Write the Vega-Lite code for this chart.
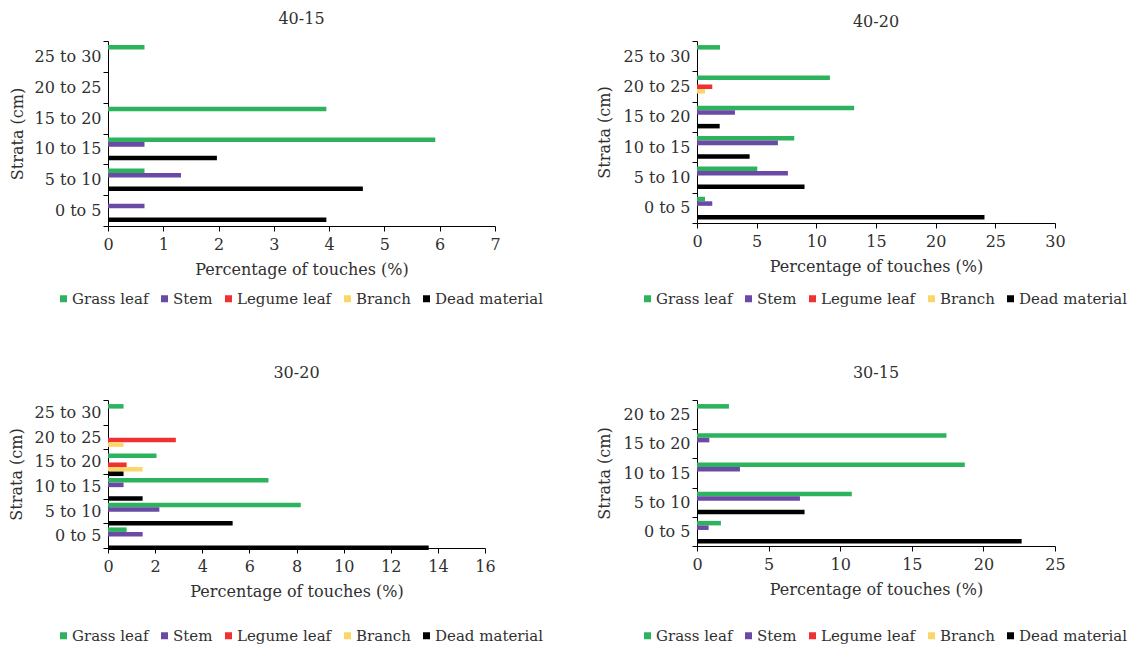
{
  "$schema": "https://vega.github.io/schema/vega-lite/v6.json",
  "padding": {"left": 8, "top": 11, "right": 5, "bottom": 5},
  "background": "white",
  "datasets": {
    "touches": [
      {"panel": "40-15", "stratum": "25 to 30", "part": "Grass leaf", "pct": 0.66},
      {"panel": "40-15", "stratum": "15 to 20", "part": "Grass leaf", "pct": 3.95},
      {"panel": "40-15", "stratum": "10 to 15", "part": "Grass leaf", "pct": 5.92},
      {"panel": "40-15", "stratum": "10 to 15", "part": "Stem", "pct": 0.66},
      {"panel": "40-15", "stratum": "10 to 15", "part": "Dead material", "pct": 1.97},
      {"panel": "40-15", "stratum": "5 to 10", "part": "Grass leaf", "pct": 0.66},
      {"panel": "40-15", "stratum": "5 to 10", "part": "Stem", "pct": 1.32},
      {"panel": "40-15", "stratum": "5 to 10", "part": "Dead material", "pct": 4.61},
      {"panel": "40-15", "stratum": "0 to 5", "part": "Stem", "pct": 0.66},
      {"panel": "40-15", "stratum": "0 to 5", "part": "Dead material", "pct": 3.95},

      {"panel": "40-20", "stratum": "25 to 30", "part": "Grass leaf", "pct": 1.93},
      {"panel": "40-20", "stratum": "20 to 25", "part": "Grass leaf", "pct": 11.14},
      {"panel": "40-20", "stratum": "20 to 25", "part": "Legume leaf", "pct": 1.28},
      {"panel": "40-20", "stratum": "20 to 25", "part": "Branch", "pct": 0.67},
      {"panel": "40-20", "stratum": "15 to 20", "part": "Grass leaf", "pct": 13.17},
      {"panel": "40-20", "stratum": "15 to 20", "part": "Stem", "pct": 3.18},
      {"panel": "40-20", "stratum": "15 to 20", "part": "Dead material", "pct": 1.9},
      {"panel": "40-20", "stratum": "10 to 15", "part": "Grass leaf", "pct": 8.15},
      {"panel": "40-20", "stratum": "10 to 15", "part": "Stem", "pct": 6.78},
      {"panel": "40-20", "stratum": "10 to 15", "part": "Dead material", "pct": 4.41},
      {"panel": "40-20", "stratum": "5 to 10", "part": "Grass leaf", "pct": 5.05},
      {"panel": "40-20", "stratum": "5 to 10", "part": "Stem", "pct": 7.62},
      {"panel": "40-20", "stratum": "5 to 10", "part": "Dead material", "pct": 9.01},
      {"panel": "40-20", "stratum": "0 to 5", "part": "Grass leaf", "pct": 0.67},
      {"panel": "40-20", "stratum": "0 to 5", "part": "Stem", "pct": 1.28},
      {"panel": "40-20", "stratum": "0 to 5", "part": "Dead material", "pct": 24.09},

      {"panel": "30-20", "stratum": "25 to 30", "part": "Grass leaf", "pct": 0.66},
      {"panel": "30-20", "stratum": "20 to 25", "part": "Legume leaf", "pct": 2.88},
      {"panel": "30-20", "stratum": "20 to 25", "part": "Branch", "pct": 0.66},
      {"panel": "30-20", "stratum": "15 to 20", "part": "Grass leaf", "pct": 2.06},
      {"panel": "30-20", "stratum": "15 to 20", "part": "Legume leaf", "pct": 0.79},
      {"panel": "30-20", "stratum": "15 to 20", "part": "Branch", "pct": 1.47},
      {"panel": "30-20", "stratum": "15 to 20", "part": "Dead material", "pct": 0.66},
      {"panel": "30-20", "stratum": "10 to 15", "part": "Grass leaf", "pct": 6.81},
      {"panel": "30-20", "stratum": "10 to 15", "part": "Stem", "pct": 0.66},
      {"panel": "30-20", "stratum": "10 to 15", "part": "Dead material", "pct": 1.47},
      {"panel": "30-20", "stratum": "5 to 10", "part": "Grass leaf", "pct": 8.18},
      {"panel": "30-20", "stratum": "5 to 10", "part": "Stem", "pct": 2.18},
      {"panel": "30-20", "stratum": "5 to 10", "part": "Dead material", "pct": 5.29},
      {"panel": "30-20", "stratum": "0 to 5", "part": "Grass leaf", "pct": 0.79},
      {"panel": "30-20", "stratum": "0 to 5", "part": "Stem", "pct": 1.47},
      {"panel": "30-20", "stratum": "0 to 5", "part": "Dead material", "pct": 13.61},

      {"panel": "30-15", "stratum": "20 to 25", "part": "Grass leaf", "pct": 2.23},
      {"panel": "30-15", "stratum": "15 to 20", "part": "Grass leaf", "pct": 17.42},
      {"panel": "30-15", "stratum": "15 to 20", "part": "Stem", "pct": 0.86},
      {"panel": "30-15", "stratum": "10 to 15", "part": "Grass leaf", "pct": 18.7},
      {"panel": "30-15", "stratum": "10 to 15", "part": "Stem", "pct": 3.0},
      {"panel": "30-15", "stratum": "5 to 10", "part": "Grass leaf", "pct": 10.81},
      {"panel": "30-15", "stratum": "5 to 10", "part": "Stem", "pct": 7.19},
      {"panel": "30-15", "stratum": "5 to 10", "part": "Dead material", "pct": 7.51},
      {"panel": "30-15", "stratum": "0 to 5", "part": "Grass leaf", "pct": 1.67},
      {"panel": "30-15", "stratum": "0 to 5", "part": "Stem", "pct": 0.81},
      {"panel": "30-15", "stratum": "0 to 5", "part": "Dead material", "pct": 22.67}
    ]
  },
  "spacing": 58,
  "resolve": {"scale": {"color": "independent", "x": "independent", "y": "independent"}, "legend": {"color": "independent"}},
  "vconcat": [
    {
      "spacing": 53,
      "resolve": {"scale": {"color": "independent", "x": "independent", "y": "independent"}, "legend": {"color": "independent"}},
      "hconcat": [
        {
          "title": {"text": "40-15", "offset": 6},
          "width": 387,
          "height": 185,
          "data": {"name": "touches"},
          "transform": [{"filter": "datum.panel === '40-15'"}],
          "mark": {"type": "bar"},
          "encoding": {
            "y": {"field": "stratum", "type": "nominal",
                  "scale": {"domain": ["25 to 30", "20 to 25", "15 to 20", "10 to 15", "5 to 10", "0 to 5"], "paddingInner": 0, "paddingOuter": 0},
                  "axis": {"title": "Strata (cm)", "tickBand": "extent", "titlePadding": 9}},
            "yOffset": {"field": "part", "type": "nominal",
                        "scale": {"domain": ["Grass leaf", "Stem", "Legume leaf", "Branch", "Dead material"], "paddingInner": 0, "paddingOuter": 0.9}},
            "x": {"field": "pct", "type": "quantitative", "scale": {"domain": [0, 7], "nice": false},
                  "axis": {"title": "Percentage of touches (%)", "values": [0, 1, 2, 3, 4, 5, 6, 7]}},
            "color": {"field": "part", "type": "nominal",
                      "scale": {"domain": ["Grass leaf", "Stem", "Legume leaf", "Branch", "Dead material"], "range": ["#2db35d", "#6a4aa5", "#ee3131", "#fdd66a", "#000000"]},
                      "legend": {"orient": "none", "legendX": -52, "legendY": 250}}
          }
        },
        {
          "title": {"text": "40-20", "offset": 3},
          "width": 358,
          "height": 182,
          "data": {"name": "touches"},
          "transform": [{"filter": "datum.panel === '40-20'"}],
          "mark": {"type": "bar"},
          "encoding": {
            "y": {"field": "stratum", "type": "nominal",
                  "scale": {"domain": ["25 to 30", "20 to 25", "15 to 20", "10 to 15", "5 to 10", "0 to 5"], "paddingInner": 0, "paddingOuter": 0},
                  "axis": {"title": "Strata (cm)", "tickBand": "extent", "titlePadding": 11}},
            "yOffset": {"field": "part", "type": "nominal",
                        "scale": {"domain": ["Grass leaf", "Stem", "Legume leaf", "Branch", "Dead material"], "paddingInner": 0, "paddingOuter": 0.9}},
            "x": {"field": "pct", "type": "quantitative", "scale": {"domain": [0, 30], "nice": false},
                  "axis": {"title": "Percentage of touches (%)", "values": [0, 5, 10, 15, 20, 25, 30]}},
            "color": {"field": "part", "type": "nominal",
                      "scale": {"domain": ["Grass leaf", "Stem", "Legume leaf", "Branch", "Dead material"], "range": ["#2db35d", "#6a4aa5", "#ee3131", "#fdd66a", "#000000"]},
                      "legend": {"orient": "none", "legendX": -57, "legendY": 250}}
          }
        }
      ]
    },
    {
      "spacing": 53,
      "resolve": {"scale": {"color": "independent", "x": "independent", "y": "independent"}, "legend": {"color": "independent"}},
      "hconcat": [
        {
          "title": {"text": "30-20", "offset": 11},
          "width": 377,
          "height": 148,
          "data": {"name": "touches"},
          "transform": [{"filter": "datum.panel === '30-20'"}],
          "mark": {"type": "bar"},
          "encoding": {
            "y": {"field": "stratum", "type": "nominal",
                  "scale": {"domain": ["25 to 30", "20 to 25", "15 to 20", "10 to 15", "5 to 10", "0 to 5"], "paddingInner": 0, "paddingOuter": 0},
                  "axis": {"title": "Strata (cm)", "tickBand": "extent", "titlePadding": 10}},
            "yOffset": {"field": "part", "type": "nominal",
                        "scale": {"domain": ["Grass leaf", "Stem", "Legume leaf", "Branch", "Dead material"], "paddingInner": 0, "paddingOuter": 0.9}},
            "x": {"field": "pct", "type": "quantitative", "scale": {"domain": [0, 16], "nice": false},
                  "axis": {"title": "Percentage of touches (%)", "values": [0, 2, 4, 6, 8, 10, 12, 14, 16]}},
            "color": {"field": "part", "type": "nominal",
                      "scale": {"domain": ["Grass leaf", "Stem", "Legume leaf", "Branch", "Dead material"], "range": ["#2db35d", "#6a4aa5", "#ee3131", "#fdd66a", "#000000"]},
                      "legend": {"orient": "none", "legendX": -52, "legendY": 228}}
          }
        },
        {
          "title": {"text": "30-15", "offset": 11},
          "width": 358,
          "height": 146,
          "data": {"name": "touches"},
          "transform": [{"filter": "datum.panel === '30-15'"}],
          "mark": {"type": "bar"},
          "encoding": {
            "y": {"field": "stratum", "type": "nominal",
                  "scale": {"domain": ["20 to 25", "15 to 20", "10 to 15", "5 to 10", "0 to 5"], "paddingInner": 0, "paddingOuter": 0},
                  "axis": {"title": "Strata (cm)", "tickBand": "extent", "titlePadding": 11}},
            "yOffset": {"field": "part", "type": "nominal",
                        "scale": {"domain": ["Grass leaf", "Stem", "Legume leaf", "Branch", "Dead material"], "paddingInner": 0, "paddingOuter": 0.9}},
            "x": {"field": "pct", "type": "quantitative", "scale": {"domain": [0, 25], "nice": false},
                  "axis": {"title": "Percentage of touches (%)", "values": [0, 5, 10, 15, 20, 25]}},
            "color": {"field": "part", "type": "nominal",
                      "scale": {"domain": ["Grass leaf", "Stem", "Legume leaf", "Branch", "Dead material"], "range": ["#2db35d", "#6a4aa5", "#ee3131", "#fdd66a", "#000000"]},
                      "legend": {"orient": "none", "legendX": -57, "legendY": 228}}
          }
        }
      ]
    }
  ],
  "config": {
    "font": "DejaVu Serif",
    "view": {"stroke": null},
    "title": {"font": "DejaVu Serif", "fontSize": 16, "fontWeight": "normal", "color": "#303030"},
    "axis": {
      "grid": false,
      "labelFont": "DejaVu Serif", "labelFontSize": 16, "labelColor": "#303030",
      "titleFont": "DejaVu Serif", "titleFontSize": 16, "titleFontWeight": "normal", "titleColor": "#303030",
      "domainColor": "#000000", "tickColor": "#000000", "tickSize": 5, "labelPadding": 2
    },
    "axisX": {"labelPadding": 5, "titlePadding": 9, "labelFlush": false},
    "legend": {
      "direction": "horizontal", "title": null,
      "labelFont": "DejaVu Serif", "labelFontSize": 15, "labelColor": "#303030",
      "symbolType": "square", "symbolSize": 49, "symbolStrokeWidth": 0,
      "labelOffset": 1, "columnPadding": 8, "symbolOffset": 0
    }
  }
}
